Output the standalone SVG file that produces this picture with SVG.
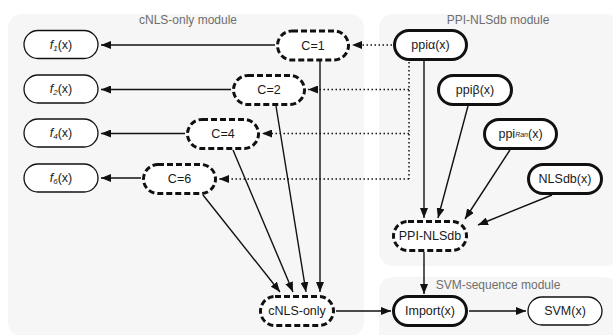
<svg xmlns="http://www.w3.org/2000/svg" width="613" height="335" viewBox="0 0 613 335">
<style>
.panel{fill:#f6f6f6;stroke:none}
.ptitle{font-family:"Liberation Sans",Arial,sans-serif;font-size:12px;fill:#6e6e6e;text-anchor:middle}
.t{font-family:"Liberation Sans",Arial,sans-serif;font-size:12.5px;fill:#1a1a1a;text-anchor:middle;dominant-baseline:central}
.thin{fill:#fff;stroke:#111;stroke-width:1.3}
.bold{fill:#fff;stroke:#111;stroke-width:3}
.dash{fill:#fff;stroke:#111;stroke-width:3;stroke-dasharray:6 3}
.c{stroke:#111;stroke-width:1.4;fill:none}
.ca{stroke:#111;stroke-width:1.4;fill:none;marker-end:url(#ah)}
.d{stroke:#111;stroke-width:1.5;fill:none;stroke-dasharray:1.5 2.5}
.da{stroke:#111;stroke-width:1.5;fill:none;stroke-dasharray:1.5 2.5;marker-end:url(#ah)}
</style>
<defs>
<marker id="ah" markerUnits="userSpaceOnUse" markerWidth="11" markerHeight="8" refX="10" refY="4" orient="auto">
<path d="M0,0 L10,4 L0,8 z" fill="#111"/>
</marker>
</defs>
<rect width="613" height="335" fill="#fff"/>
<g id="panels">
<rect class="panel" x="8" y="14" width="356" height="322" rx="14"/>
<rect class="panel" x="379" y="14" width="240" height="252" rx="14"/>
<rect class="panel" x="379" y="277" width="240" height="70" rx="14"/>
<text class="ptitle" x="188" y="24">cNLS-only module</text>
<text class="ptitle" x="498" y="24">PPI-NLSdb module</text>
<text class="ptitle" x="498" y="289">SVM-sequence module</text>
</g>
<g id="connectors">
<line class="ca" x1="275" y1="45" x2="101" y2="45"/>
<line class="ca" x1="231" y1="89.5" x2="101" y2="89.5"/>
<line class="ca" x1="185" y1="133.5" x2="101" y2="133.5"/>
<line class="ca" x1="141" y1="178" x2="101" y2="178"/>
<line class="da" x1="392" y1="45" x2="352" y2="45"/>
<line class="d" x1="409" y1="62" x2="409" y2="179"/>
<line class="da" x1="409" y1="89.5" x2="308" y2="89.5"/>
<line class="da" x1="409" y1="133.5" x2="262" y2="133.5"/>
<line class="da" x1="409" y1="179" x2="219" y2="179"/>
<line class="ca" x1="320" y1="61" x2="320" y2="292"/>
<line class="ca" x1="276" y1="106" x2="306" y2="292"/>
<line class="ca" x1="233" y1="150" x2="293" y2="292"/>
<line class="ca" x1="203" y1="195" x2="280" y2="292"/>
<line class="ca" x1="336" y1="311" x2="391" y2="311"/>
<line class="ca" x1="424" y1="61" x2="424" y2="218"/>
<line class="ca" x1="468" y1="106" x2="438" y2="218"/>
<line class="ca" x1="510" y1="150" x2="465" y2="219"/>
<line class="ca" x1="552" y1="195" x2="478" y2="225"/>
<line class="ca" x1="424" y1="252" x2="424" y2="294"/>
<line class="ca" x1="469" y1="311" x2="526" y2="311"/>
</g>
<g id="f1"><rect class="thin" x="24" y="30.5" width="74" height="28" rx="14"/><text class="t" x="61" y="44.5"><tspan font-style="italic">f</tspan><tspan font-style="italic" font-size="8" dy="3">1</tspan><tspan dy="-3">(x)</tspan></text></g>
<g id="f2"><rect class="thin" x="24" y="75" width="74" height="28" rx="14"/><text class="t" x="61" y="89"><tspan font-style="italic">f</tspan><tspan font-style="italic" font-size="8" dy="3">2</tspan><tspan dy="-3">(x)</tspan></text></g>
<g id="f4"><rect class="thin" x="24" y="119" width="74" height="28" rx="14"/><text class="t" x="61" y="133"><tspan font-style="italic">f</tspan><tspan font-style="italic" font-size="8" dy="3">4</tspan><tspan dy="-3">(x)</tspan></text></g>
<g id="f6"><rect class="thin" x="24" y="164" width="74" height="28" rx="14"/><text class="t" x="61" y="178"><tspan font-style="italic">f</tspan><tspan font-style="italic" font-size="8" dy="3">6</tspan><tspan dy="-3">(x)</tspan></text></g>
<g id="c1"><rect class="dash" x="277.5" y="31" width="71" height="29" rx="14.5"/><text class="t" x="313" y="45.5">C=1</text></g>
<g id="c2"><rect class="dash" x="233.5" y="75.5" width="71" height="29" rx="14.5"/><text class="t" x="269" y="90">C=2</text></g>
<g id="c4"><rect class="dash" x="187.5" y="119.5" width="71" height="29" rx="14.5"/><text class="t" x="223" y="134">C=4</text></g>
<g id="c6"><rect class="dash" x="143.5" y="164.5" width="72" height="29" rx="14.5"/><text class="t" x="179.5" y="179">C=6</text></g>
<g id="cnls"><rect class="dash" x="260.5" y="296.5" width="73" height="29" rx="14.5"/><text class="t" x="297" y="311">cNLS-only</text></g>
<g id="ppia"><rect class="bold" x="394.5" y="30.5" width="72" height="29" rx="14.5"/><text class="t" x="430.5" y="45">ppiα(x)</text></g>
<g id="ppib"><rect class="bold" x="438.5" y="75.5" width="73" height="29" rx="14.5"/><text class="t" x="475" y="90">ppiβ(x)</text></g>
<g id="ppiran"><rect class="bold" x="484.5" y="119.5" width="72" height="29" rx="14.5"/><text class="t" x="520.5" y="134">ppi<tspan font-style="italic" font-size="7">Ran</tspan>(x)</text></g>
<g id="nlsdb"><rect class="bold" x="528.5" y="164.5" width="73" height="29" rx="14.5"/><text class="t" x="565" y="179">NLSdb(x)</text></g>
<g id="ppinlsdb"><rect class="dash" x="393.5" y="221.5" width="73" height="29" rx="14.5"/><text class="t" x="430" y="236">PPI-NLSdb</text></g>
<g id="import"><rect class="bold" x="393.5" y="296.5" width="73" height="29" rx="14.5"/><text class="t" x="430" y="311">Import(x)</text></g>
<g id="svm"><rect class="thin" x="528" y="297" width="74" height="28" rx="14"/><text class="t" x="565" y="311">SVM(x)</text></g>
</svg>
